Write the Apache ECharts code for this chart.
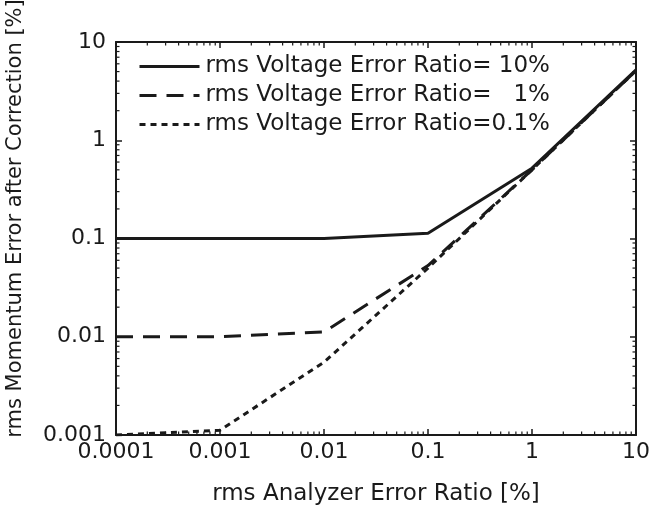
<!DOCTYPE html>
<html>
<head>
<meta charset="utf-8">
<style>
  html, body { margin: 0; padding: 0; background: #fff; }
  #chart { width: 655px; height: 508px; }
</style>
<script src="https://cdn.jsdelivr.net/npm/echarts@6/dist/echarts.min.js"></script>
</head>
<body>
<div id="chart"></div>
<script>
// analyzer error ratio [%]
const analyzerRatio = [0.0001, 0.001, 0.01, 0.1, 1, 10];
// momentum error after correction [%]
const voltage10 = [0.1, 0.1, 0.1, 0.113, 0.52, 5.2];
const voltage1 = [0.01, 0.01, 0.0112, 0.053, 0.5, 5.1];
const voltage01 = [0.001, 0.00112, 0.0055, 0.05, 0.5, 5.1];
const seriesNames = [
    'rms Voltage Error Ratio= 10%',
    'rms Voltage Error Ratio=   1%',
    'rms Voltage Error Ratio=0.1%'
];
const xDecades = [0.0001, 0.001, 0.01, 0.1, 1];
const yDecades = [0.001, 0.01, 0.1, 1];

const FONT = 'DejaVu Sans';
const INK = '#1a1a1a';

function pairs(ys) {
    return analyzerRatio.map((x, i) => [x, ys[i]]);
}

function fmt(v) {
    return String(Number(Number(v).toPrecision(1)));
}

const chart = echarts.init(document.getElementById('chart'), null, { renderer: 'canvas' });

const baseAxis = {
    type: 'log',
    logBase: 10,
    axisLine: { show: true, onZero: false, lineStyle: { color: INK, width: 2 } },
    axisTick: { show: true, inside: true, length: 6, lineStyle: { color: INK, width: 1.5 } },
    splitLine: { show: false }
};

const option = {
    animation: false,
    backgroundColor: '#fff',
    grid: { left: 116, right: 19, top: 42, bottom: 73, containLabel: false, outerBoundsMode: 'none' },
    legend: {
        left: 133,
        top: 50,
        orient: 'vertical',
        itemWidth: 60,
        itemHeight: 20,
        itemGap: 6,
        itemStyle: { color: 'transparent', borderWidth: 0, opacity: 0 },
        lineStyle: { width: 3 },
        textStyle: { fontFamily: FONT, fontSize: 23, color: INK, lineHeight: 20, padding: [0, 0, 0, 1] },
        data: seriesNames
    },
    xAxis: [
        Object.assign({}, baseAxis, {
            min: 0.0001, max: 10,
            name: 'rms Analyzer Error Ratio [%]',
            nameLocation: 'middle',
            nameGap: 48,
            nameTextStyle: { fontFamily: FONT, fontSize: 23, color: INK },
            axisLabel: { fontFamily: FONT, fontSize: 22, color: INK, margin: 6, formatter: fmt }
        }),
        Object.assign({}, baseAxis, {
            position: 'top', min: 0.0001, max: 10,
            axisLabel: { show: false }
        })
    ],
    yAxis: [
        Object.assign({}, baseAxis, {
            min: 0.001, max: 10,
            name: 'rms Momentum Error after Correction [%]',
            nameLocation: 'middle',
            nameGap: 90,
            nameTextStyle: { fontFamily: FONT, fontSize: 21, color: INK, padding: [0, 0, 0, 40] },
            axisLabel: { fontFamily: FONT, fontSize: 22, color: INK, margin: 10, formatter: fmt }
        }),
        Object.assign({}, baseAxis, {
            position: 'right', min: 0.001, max: 10,
            axisLabel: { show: false }
        })
    ],
    series: [
        {
            name: seriesNames[0], type: 'line', data: pairs(voltage10),
            symbol: 'none', lineStyle: { color: INK, width: 3, type: 'solid' }, itemStyle: { color: INK }
        },
        {
            name: seriesNames[1], type: 'line', data: pairs(voltage1),
            symbol: 'none', lineStyle: { color: INK, width: 3, type: [17, 10] }, itemStyle: { color: INK }
        },
        {
            name: seriesNames[2], type: 'line', data: pairs(voltage01),
            symbol: 'none', lineStyle: { color: INK, width: 3, type: [6, 5] }, itemStyle: { color: INK }
        }
    ]
};

chart.setOption(option);

// minor ticks at 2..9 of every decade, on all four sides
function drawMinorTicks() {
    const els = [];
    const lo = chart.convertToPixel({ gridIndex: 0 }, [0.0001, 0.001]);
    const hi = chart.convertToPixel({ gridIndex: 0 }, [10, 10]);
    const len = 3.5;
    const style = { stroke: INK, lineWidth: 1.2 };
    xDecades.forEach(dec => {
        for (let k = 2; k <= 9; k++) {
            const px = chart.convertToPixel({ xAxisIndex: 0 }, dec * k);
            els.push({ type: 'line', shape: { x1: px, y1: lo[1], x2: px, y2: lo[1] - len }, style });
            els.push({ type: 'line', shape: { x1: px, y1: hi[1], x2: px, y2: hi[1] + len }, style });
        }
    });
    yDecades.forEach(dec => {
        for (let k = 2; k <= 9; k++) {
            const py = chart.convertToPixel({ yAxisIndex: 0 }, dec * k);
            els.push({ type: 'line', shape: { x1: lo[0], y1: py, x2: lo[0] + len, y2: py }, style });
            els.push({ type: 'line', shape: { x1: hi[0], y1: py, x2: hi[0] - len, y2: py }, style });
        }
    });
    chart.setOption({ graphic: els.map(e => Object.assign(e, { silent: true })) });
}
drawMinorTicks();
</script>
</body>
</html>
